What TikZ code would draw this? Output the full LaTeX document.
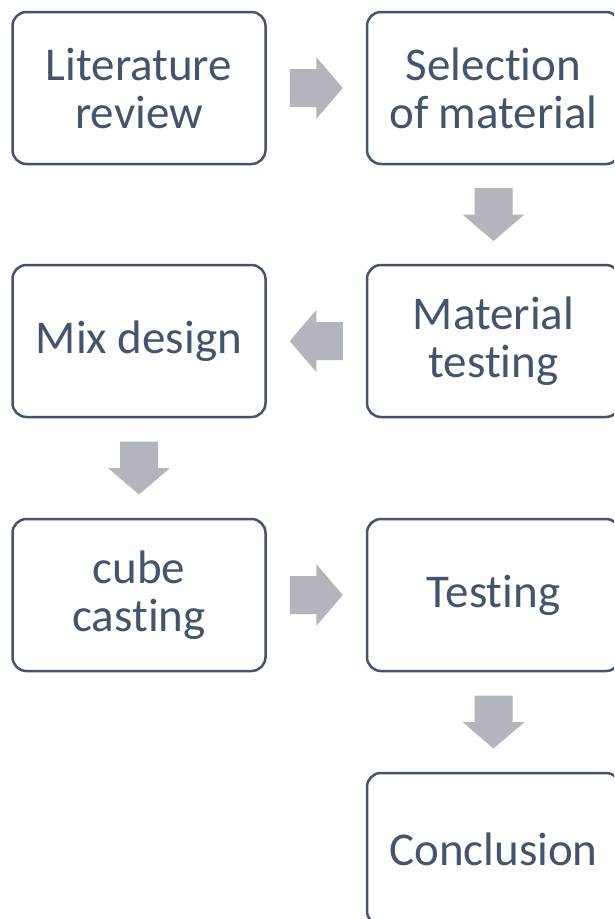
\documentclass[tikz,border=0pt]{standalone}
\usepackage{fontspec}
\setmainfont{Carlito}[Ligatures={NoCommon}]
\usetikzlibrary{calc}
\definecolor{boxline}{HTML}{44546A}
\definecolor{arrowfill}{RGB}{178,181,188}
\tikzset{
  stepbox/.style={draw=boxline, line width=2.5pt, rounded corners=14pt, fill=white,
    minimum width=253pt, minimum height=152pt, inner sep=0pt, align=center,
    text=boxline, font=\fontsize{47}{48}\selectfont},
  blockarrow/.pic={
    \fill[arrowfill] (-26.5,-19) -- (0,-19) -- (0,-31) -- (26.5,0) -- (0,31) -- (0,19) -- (-26.5,19) -- cycle;
  }
}
\begin{document}
\begin{tikzpicture}[x=1pt, y=-1pt]
\clip (0,0) rectangle (614,919);
\fill[white] (0,0) rectangle (614,919);
\node[stepbox] (lit) at (139,88) {Literature\\review};
\node[stepbox] (sel) at (493.5,88) {Selection\\of material};
\node[stepbox] (mat) at (493.5,341) {Material\\testing};
\node[stepbox] (mix) at (139,341) {Mix design};
\node[stepbox] (cube) at (139,595) {cube\\casting};
\node[stepbox] (test) at (493.5,595) {Testing};
\node[stepbox] (conc) at (493.5,849) {Conclusion};
\pic at ($(lit.east)!0.5!(sel.west)$) {blockarrow};
\pic[rotate=-90] at ($(sel.south)!0.5!(mat.north)$) {blockarrow};
\pic[rotate=180] at ($(mat.west)!0.5!(mix.east)$) {blockarrow};
\pic[rotate=-90] at ($(mix.south)!0.5!(cube.north)$) {blockarrow};
\pic at ($(cube.east)!0.5!(test.west)$) {blockarrow};
\pic[rotate=-90] at ($(test.south)!0.5!(conc.north)$) {blockarrow};
\end{tikzpicture}
\end{document}
